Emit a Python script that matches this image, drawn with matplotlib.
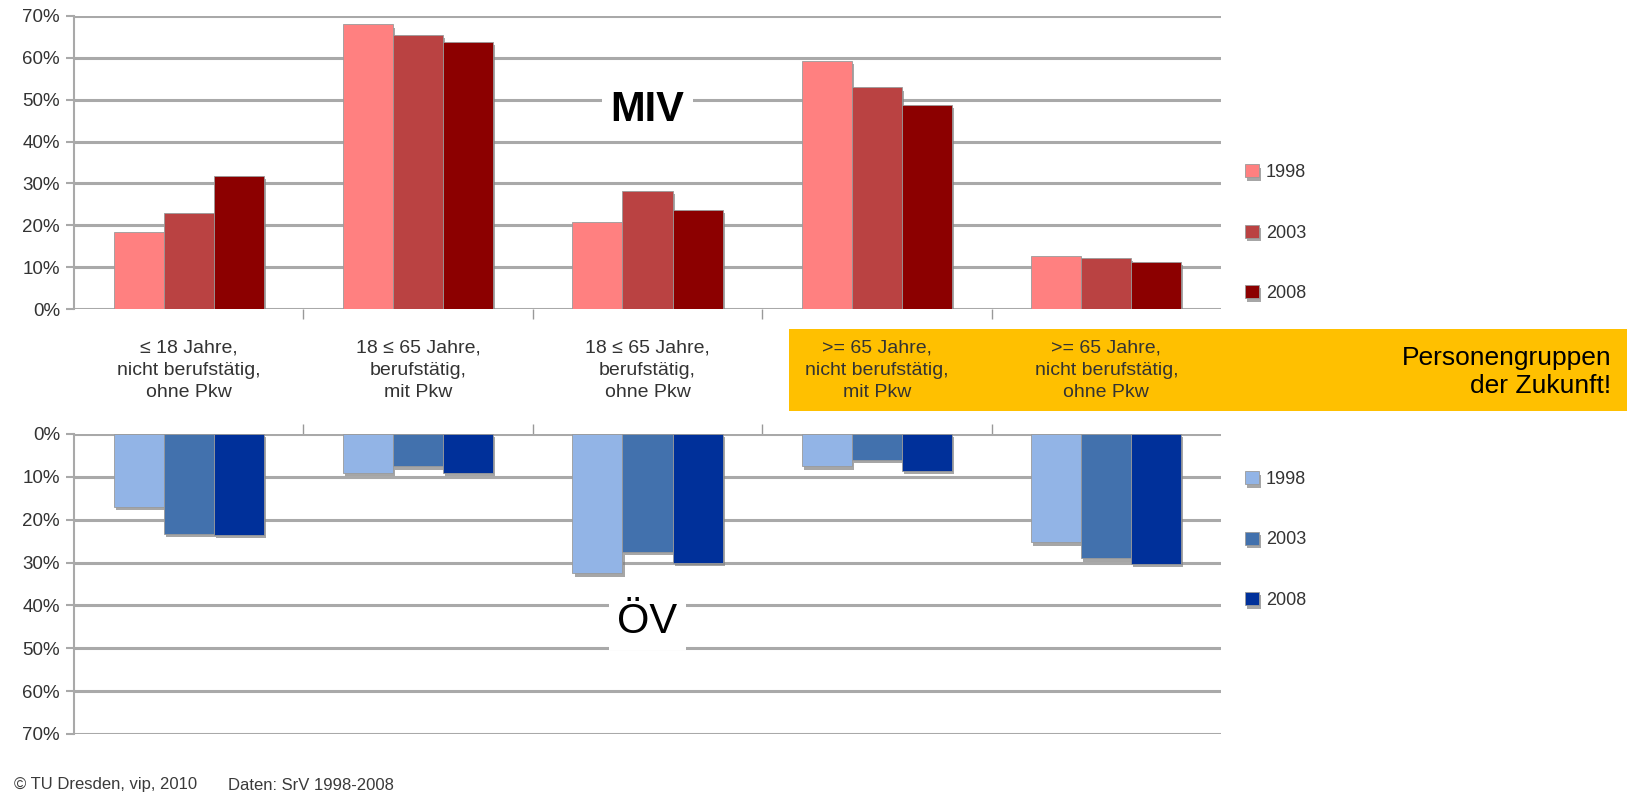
import matplotlib
matplotlib.use('Agg')
import matplotlib.pyplot as plt
import matplotlib.patheffects as pe
import matplotlib.transforms as mtransforms
from matplotlib.patches import Rectangle
import numpy as np

plt.rcParams['font.family'] = ['Liberation Sans', 'DejaVu Sans']

categories = ['≤ 18 Jahre,\nnicht berufstätig,\nohne Pkw',
              '18 ≤ 65 Jahre,\nberufstätig,\nmit Pkw',
              '18 ≤ 65 Jahre,\nberufstätig,\nohne Pkw',
              '>= 65 Jahre,\nnicht berufstätig,\nmit Pkw',
              '>= 65 Jahre,\nnicht berufstätig,\nohne Pkw']
years = ['1998', '2003', '2008']

# share of trips (%), per year, per group
miv = {'1998': [18.5, 68, 20.8, 59.3, 12.7],
       '2003': [23, 65.5, 28.2, 53, 12.2],
       '2008': [31.8, 63.9, 23.7, 48.8, 11.3]}
oev = {'1998': [17, 9, 32.5, 7.5, 25.3],
       '2003': [23.3, 7.5, 27.5, 6, 29],
       '2008': [23.5, 9, 30, 8.6, 30.3]}

red_cols = ['#FF8080', '#BA4242', '#8C0000']
blue_cols = ['#92B4E6', '#4271AD', '#00309A']
grid_col = '#a9a9a9'
txt_col = '#333333'

W, H = 1627, 798
fig = plt.figure(figsize=(W / 100, H / 100), dpi=100)

def fx(px): return px / W
def fy(py): return 1 - py / H

# orange highlight band behind the last two group labels
fig.patches.append(Rectangle((fx(789), fy(411)), 1 - fx(789), (411 - 329) / H,
                             transform=fig.transFigure, facecolor='#FFC000',
                             edgecolor='none', zorder=0))
fig.text(fx(1611), fy(372), 'Personengruppen\nder Zukunft!', ha='right', va='center',
         fontsize=19, linespacing=1.2, color='black')

ax_top = fig.add_axes([fx(74), fy(309), fx(1221) - fx(74), (309 - 16) / H])
ax_bot = fig.add_axes([fx(74), fy(734), fx(1221) - fx(74), (734 - 434) / H])
for a in (ax_top, ax_bot):
    a.patch.set_alpha(0)
    a.set_zorder(2)  # keep the group labels above the orange band

x = np.arange(len(categories))
bw = 0.218
shadow = [pe.SimplePatchShadow(offset=(1.5, -2.5), shadow_rgbFace='#808080', alpha=0.7), pe.Normal()]

def style(ax, data, cols, top):
    for i, y in enumerate(years):
        bars = ax.bar(x + (i - 1) * bw, data[y], bw, color=cols[i], edgecolor='#9a9a9a',
                      linewidth=0.6, label=y, zorder=3)
        for b in bars:
            b.set_path_effects(shadow)
    ax.set_xlim(-0.5, len(categories) - 0.5)
    ax.set_ylim(0, 70)
    ax.set_yticks(np.arange(0, 71, 10))
    ax.set_yticklabels([f'{v}%' for v in range(0, 71, 10)], fontsize=13.5, color=txt_col)
    ax.yaxis.grid(True, color=grid_col, linewidth=2.2)
    ax.set_axisbelow(True)
    ax.tick_params(axis='y', length=6, width=1.5, color=grid_col, pad=4)
    ax.set_xticks([])
    ax.set_xticks(np.arange(0.5, len(categories) - 0.5), minor=True)
    ax.tick_params(axis='x', which='minor', length=7, width=1, color='#999999',
                   top=not top, bottom=top, labelbottom=False)
    for s in ['top', 'right', 'bottom']:
        ax.spines[s].set_visible(False)
    ax.spines['left'].set_color(grid_col)
    ax.spines['left'].set_linewidth(1.5)

style(ax_top, miv, red_cols, True)
style(ax_bot, oev, blue_cols, False)
ax_bot.invert_yaxis()

# group labels under the upper chart
trans = mtransforms.blended_transform_factory(ax_top.transData, ax_top.transAxes)
for i, c in enumerate(categories):
    ax_top.text(i, -(370 - 309) / (309 - 16), c, transform=trans, ha='center', va='center',
                fontsize=14, linespacing=1.4, color=txt_col, clip_on=False)

ax_top.text(2.0, 47.5, 'MIV', ha='center', va='center', fontsize=30, fontweight='bold',
            zorder=4, bbox=dict(facecolor='white', edgecolor='none', pad=6))
ax_bot.text(2.0, 43.8, 'ÖV', ha='center', va='center', fontsize=30,
            zorder=4, bbox=dict(facecolor='white', edgecolor='none', pad=6))

for ax, cy in ((ax_top, 233), (ax_bot, 540)):
    leg = ax.legend(loc='center left', bbox_to_anchor=(fx(1245), fy(cy)),
                    bbox_transform=fig.transFigure, frameon=False, fontsize=13,
                    handlelength=0.75, handleheight=0.75, handletextpad=0.4,
                    labelspacing=2.4, borderpad=0, borderaxespad=0)
    for t in leg.get_texts():
        t.set_color(txt_col)

fig.text(fx(14), fy(785), '© TU Dresden, vip, 2010', ha='left', va='center',
         fontsize=12, color='#3a3a3a')
fig.text(fx(228), fy(785), 'Daten: SrV 1998-2008', ha='left', va='center',
         fontsize=12, color='#3a3a3a')

fig.savefig('out.png', dpi=100)
